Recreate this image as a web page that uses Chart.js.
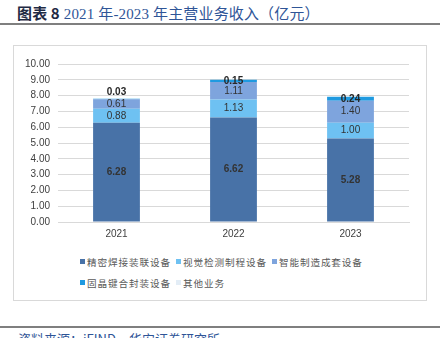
<!DOCTYPE html>
<html><head><meta charset="utf-8">
<script src="https://cdn.jsdelivr.net/npm/chart.js@4.4.0/dist/chart.umd.min.js"></script>
<style>
html,body{margin:0;padding:0;background:#fff;width:446px;height:338px;overflow:hidden;position:relative;font-family:"Liberation Sans","Noto Sans CJK SC",sans-serif;}
#title{position:absolute;left:17px;top:2px;font-family:"Liberation Serif","Noto Sans CJK SC",serif;font-size:15px;letter-spacing:0.15px;white-space:nowrap;}
#title b{color:#1f2a44;font-family:"Noto Sans CJK SC",sans-serif;font-weight:700;}
#title span{color:#2f5597;}
#tline{position:absolute;left:0;top:23px;width:440px;height:2px;background:#7f7f7f;}
#frame{position:absolute;left:13px;top:45px;width:412px;height:254px;border:1px solid #d9d9d9;}
#wrap{position:absolute;left:14px;top:46px;width:412px;height:200px;}
#legend{position:absolute;left:80px;top:251px;width:300px;display:flex;flex-wrap:wrap;font-family:"Noto Sans CJK SC",sans-serif;font-size:9.6px;color:#595959;letter-spacing:0.9px;}
.li{display:flex;align-items:center;height:21px;margin-right:5px;}
.li i{display:inline-block;width:5px;height:5px;margin-right:2px;}
#fline{position:absolute;left:0;top:326px;width:440px;height:2px;background:#7f7f7f;}
#foot{position:absolute;left:18px;top:329px;font-size:13px;color:#2f5597;font-family:"Noto Sans CJK SC",sans-serif;white-space:nowrap;}
</style></head>
<body>
<div id="title"><b>图表 8</b> <span>2021 年-2023 年主营业务收入（亿元）</span></div>
<div id="tline"></div>
<div id="frame"></div>
<div id="wrap"><canvas id="c" width="412" height="200"></canvas></div>
<div id="legend"></div>
<div id="fline"></div>
<div id="foot">资料来源：iFIND，华安证券研究所</div>
<script>
const categories = ["2021", "2022", "2023"];
const seriesNames = ["精密焊接装联设备", "视觉检测制程设备", "智能制造成套设备", "固晶键合封装设备", "其他业务"];
const weldingValues = [6.28, 6.62, 5.28];
const visionValues = [0.88, 1.13, 1.00];
const smartValues = [0.61, 1.11, 1.40];
const bondingValues = [0.03, 0.15, 0.24];
const otherValues = [0, 0, 0];
const yTicks = ["0.00","1.00","2.00","3.00","4.00","5.00","6.00","7.00","8.00","9.00","10.00"];

const colors = ["#4872a7", "#6ec1f2", "#7ea4dd", "#1f9ae0", "#e3edf6"];
const allValues = [weldingValues, visionValues, smartValues, bondingValues, otherValues];

const labelPlugin = {
  id: 'segLabels',
  afterDatasetsDraw(chart) {
    const ctx = chart.ctx;
    ctx.save();
    ctx.textAlign = 'center';
    ctx.textBaseline = 'middle';
    chart.data.datasets.forEach((ds, di) => {
      if (di > 3) return;
      const meta = chart.getDatasetMeta(di);
      meta.data.forEach((bar, i) => {
        const v = ds.data[i];
        if (!v) return;
        const p = bar.getProps(['x', 'y', 'base'], true);
        const h = Math.abs(p.base - p.y);
        let y = (p.y + p.base) / 2;
        if (h < 2) y = p.y - 7;
        const bold = di === 0 || di === 3;
        ctx.font = (bold ? 'bold ' : '') + '10px "Liberation Sans", sans-serif';
        ctx.fillStyle = di === 3 ? '#262626' : '#333333';
        ctx.fillText(v.toFixed(2), p.x, y);
      });
    });
    ctx.restore();
  }
};

const htmlLegend = {
  id: 'htmlLegend',
  afterUpdate(chart) {
    const box = document.getElementById('legend');
    box.innerHTML = '';
    chart.options.plugins.legend.labels.generateLabels(chart).forEach(item => {
      const d = document.createElement('div');
      d.className = 'li';
      const m = document.createElement('i');
      m.style.background = item.fillStyle;
      d.appendChild(m);
      const t = document.createElement('span');
      t.textContent = item.text;
      d.appendChild(t);
      box.appendChild(d);
    });
  }
};

new Chart(document.getElementById('c'), {
  type: 'bar',
  data: {
    labels: categories,
    datasets: seriesNames.map((n, k) => ({
      label: n,
      data: allValues[k],
      backgroundColor: colors[k],
      borderWidth: 0,
      categoryPercentage: 1.0,
      barPercentage: 0.4
    }))
  },
  options: {
    responsive: false,
    animation: false,
    layout: { padding: { top: 18, right: 17, left: 0, bottom: 0 } },
    plugins: {
      legend: { display: false },
      tooltip: { enabled: false }
    },
    scales: {
      x: {
        stacked: true,
        grid: { display: false, drawTicks: false },
        border: { display: true, color: '#d9d9d9' },
        ticks: { color: '#404040', font: { size: 10, family: 'Liberation Sans' }, padding: 6 }
      },
      y: {
        stacked: true,
        min: 0, max: 10,
        grid: { color: '#d9d9d9', drawTicks: false },
        border: { display: false },
        afterBuildTicks(axis) { axis.ticks = yTicks.map(t => ({ value: parseFloat(t) })); },
        ticks: {
          color: '#404040', font: { size: 10, family: 'Liberation Sans' }, padding: 8,
          callback: (v, i) => yTicks[i]
        },
        afterFit(axis) { axis.width = 44; }
      }
    }
  },
  plugins: [labelPlugin, htmlLegend]
});
</script>
</body></html>
